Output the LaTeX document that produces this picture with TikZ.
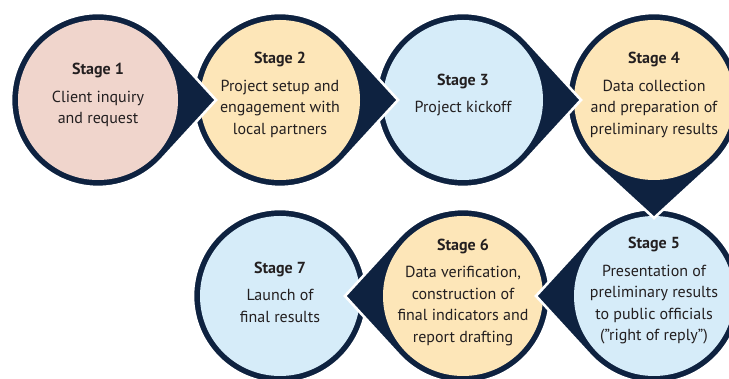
\documentclass[tikz,border=0pt]{standalone}
\usepackage{fontspec}
\setmainfont{PT Sans}
\usetikzlibrary{calc}
\definecolor{navy}{HTML}{0E2240}
\definecolor{pinkfill}{HTML}{F0D5CC}
\definecolor{peachfill}{HTML}{FDE6B8}
\definecolor{bluefill}{HTML}{D6ECF9}
\definecolor{txt}{HTML}{231F20}
\newcommand{\tdrop}[2]{%
  \filldraw[tearshape] ($(#1)+(#2:118pt)$) -- ($(#1)+(#2+42.5:87pt)$)
    arc[start angle=#2+42.5, end angle=#2+317.5, radius=87pt] -- cycle;}
\begin{document}
\begin{tikzpicture}[x=1pt,y=1pt,
  tearshape/.style={fill=navy, draw=white, line width=2.6pt, line join=miter},
  ring/.style={circle, fill=navy, draw=white, line width=2.6pt, minimum size=174pt, inner sep=0pt},
  inner/.style={circle, minimum size=160pt, inner sep=0pt},
  label/.style={align=center, text=txt, font=\fontsize{16}{21.5}\selectfont}]
\useasboundingbox (0,0) rectangle (729,379);
% centres
\coordinate (c1) at (98,279);
\coordinate (c2) at (280,279);
\coordinate (c3) at (463,279);
\coordinate (c4) at (654,279);
\coordinate (c5) at (654,83);
\coordinate (c6) at (463,83);
\coordinate (c7) at (280,83);
% Stage 7
\node[ring] (r7) at (c7) {};
\node[inner, fill=bluefill] (s7) at (c7) {};
\node[label] (t7) at ($(c7)+(0,4)$) {\textbf{Stage 7}\\[6pt]Launch of\\final results};
% Stage 6
\tdrop{c6}{180}
\node[inner, fill=peachfill] (s6) at (c6) {};
\node[label] (t6) at ($(c6)+(0,4)$) {\textbf{Stage 6}\\[6pt]Data verification,\\construction of\\final indicators and\\report drafting};
% Stage 5
\tdrop{c5}{180}
\node[inner, fill=bluefill] (s5) at (c5) {};
\node[label] (t5) at ($(c5)+(0,5)$) {\textbf{Stage 5}\\[6pt]Presentation of\\preliminary results\\to public officials\\(”right of reply”)};
% Stage 4
\tdrop{c4}{270}
\node[inner, fill=peachfill] (s4) at (c4) {};
\node[label] (t4) at ($(c4)+(0,5)$) {\textbf{Stage 4}\\[6pt]Data collection\\and preparation of\\preliminary results};
% Stage 3
\tdrop{c3}{0}
\node[inner, fill=bluefill] (s3) at (c3) {};
\node[label] (t3) at ($(c3)+(0,5)$) {\textbf{Stage 3}\\[6pt]Project kickoff};
% Stage 2
\tdrop{c2}{0}
\node[inner, fill=peachfill] (s2) at (c2) {};
\node[label] (t2) at ($(c2)+(0,5)$) {\textbf{Stage 2}\\[6pt]Project setup and\\engagement with\\local partners};
% Stage 1
\tdrop{c1}{0}
\node[inner, fill=pinkfill] (s1) at (c1) {};
\node[label] (t1) at ($(c1)+(0,5)$) {\textbf{Stage 1}\\[6pt]Client inquiry\\and request};
\end{tikzpicture}
\end{document}
